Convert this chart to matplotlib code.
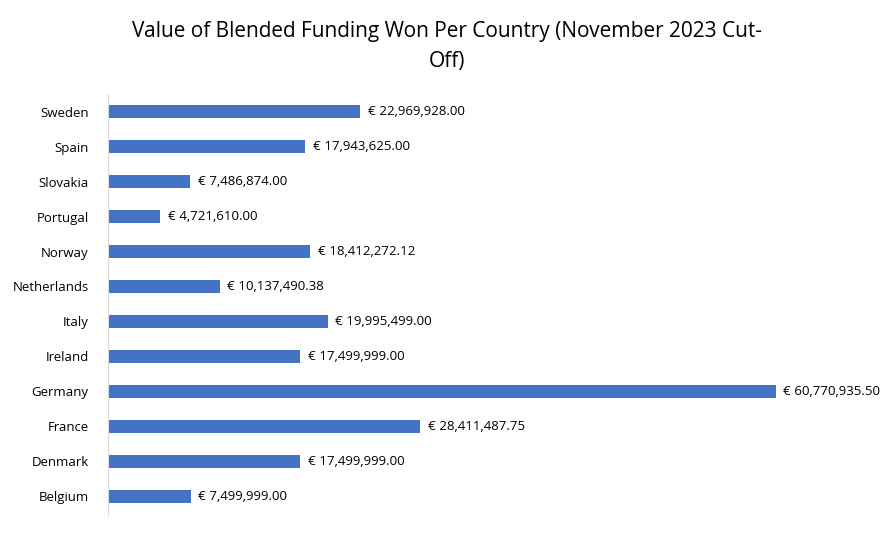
import matplotlib.pyplot as plt

countries = ['Belgium', 'Denmark', 'France', 'Germany', 'Ireland', 'Italy',
             'Netherlands', 'Norway', 'Portugal', 'Slovakia', 'Spain', 'Sweden']
values = [7499999.00, 17499999.00, 28411487.75, 60770935.50, 17499999.00,
          19995499.00, 10137490.38, 18412272.12, 4721610.00, 7486874.00,
          17943625.00, 22969928.00]

plt.rcParams['font.family'] = 'Open Sans'

fig = plt.figure(figsize=(8.94, 5.38), dpi=100)
ax = fig.add_axes([0.121, 0.045, 0.86, 0.78])

y = range(len(countries))
ax.barh(y, values, height=0.36, color='#4472C4')
for i, v in zip(y, values):
    ax.text(v + 700000, i, '€ {:,.2f}'.format(v), va='center', ha='left', fontsize=9.5)

ax.set_yticks(list(y))
ax.set_yticklabels(countries, fontsize=9.5)
ax.set_ylim(-0.5, len(countries) - 0.5)
ax.set_xlim(0, 70000000)
ax.set_xticks([])
ax.tick_params(axis='y', length=0, pad=14)
for s in ['top', 'right', 'bottom']:
    ax.spines[s].set_visible(False)
ax.spines['left'].set_color('#d9d9d9')

fig.text(0.5, 0.942, 'Value of Blended Funding Won Per Country (November 2023 Cut-',
         ha='center', va='center', fontsize=15)
fig.text(0.5, 0.885, 'Off)', ha='center', va='center', fontsize=15)

fig.savefig('out.png', dpi=100)
